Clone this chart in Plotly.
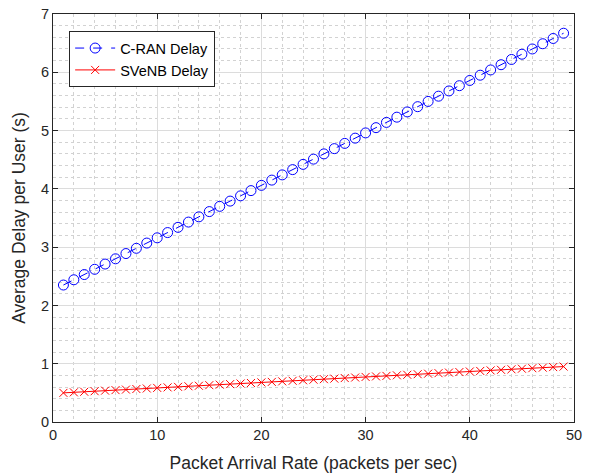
import plotly.graph_objects as go

arrival_rate = list(range(1, 50))

cran_delay = [2.35, 2.44, 2.53, 2.62, 2.71, 2.80, 2.89, 2.98, 3.07, 3.16,
              3.25, 3.34, 3.43, 3.52, 3.61, 3.70, 3.79, 3.88, 3.97, 4.06,
              4.15, 4.24, 4.33, 4.42, 4.51, 4.60, 4.69, 4.78, 4.87, 4.96,
              5.05, 5.14, 5.23, 5.32, 5.41, 5.50, 5.59, 5.68, 5.77, 5.86,
              5.95, 6.04, 6.13, 6.22, 6.31, 6.40, 6.49, 6.58, 6.67]

svenb_delay = [0.500, 0.509, 0.519, 0.528, 0.538, 0.547, 0.556, 0.566, 0.575, 0.585,
               0.594, 0.603, 0.613, 0.622, 0.632, 0.641, 0.650, 0.660, 0.669, 0.679,
               0.688, 0.697, 0.707, 0.716, 0.726, 0.735, 0.744, 0.754, 0.763, 0.773,
               0.782, 0.791, 0.801, 0.810, 0.820, 0.829, 0.838, 0.848, 0.857, 0.867,
               0.876, 0.885, 0.895, 0.904, 0.914, 0.923, 0.932, 0.942, 0.951]

x_ticks = [0, 10, 20, 30, 40, 50]
y_ticks = [0, 1, 2, 3, 4, 5, 6, 7]

FONT = "Liberation Sans, Arial, sans-serif"

fig = go.Figure()
fig.add_trace(go.Scatter(
    x=arrival_rate, y=cran_delay, name="C-RAN Delay", mode="lines+markers",
    line=dict(color="#0000ff", width=1, dash="dash"),
    marker=dict(symbol="circle-open", size=10, color="#0000ff",
                line=dict(width=1, color="#0000ff")),
))
fig.add_trace(go.Scatter(
    x=arrival_rate, y=svenb_delay, name="SVeNB Delay", mode="lines+markers",
    line=dict(color="#ff0000", width=1),
    marker=dict(symbol="x-thin", size=8, color="#ff0000",
                line=dict(width=1, color="#ff0000")),
))

axis_common = dict(
    showline=True, linecolor="#262626", linewidth=1, mirror="ticks",
    ticks="inside", ticklen=5, tickcolor="#262626",
    showgrid=True, gridcolor="#dcdcdc", gridwidth=1,
    zeroline=False, automargin=False,
    tickfont=dict(family=FONT, size=14.5, color="#262626"),
)

fig.update_xaxes(
    range=[0, 50], tickvals=x_ticks,
    title=dict(text="Packet Arrival Rate (packets per sec)", standoff=14,
               font=dict(family=FONT, size=17.5, color="#262626")),
    minor=dict(dtick=2, showgrid=True, gridcolor="#d2d2d2", griddash="dot", gridwidth=1, ticks=""),
    **axis_common,
)
fig.update_yaxes(
    range=[0, 7], tickvals=y_ticks,
    title=dict(text="Average Delay per User (s)", standoff=10,
               font=dict(family=FONT, size=17.5, color="#262626")),
    minor=dict(dtick=0.2, showgrid=True, gridcolor="#d2d2d2", griddash="dot", gridwidth=1, ticks=""),
    **axis_common,
)

fig.update_layout(
    width=592, height=475,
    margin=dict(l=53, r=18, t=14, b=53),
    paper_bgcolor="white", plot_bgcolor="white",
    font=dict(family=FONT, size=14.5, color="#000000"),
    legend=dict(
        x=0.031, y=0.958, xanchor="left", yanchor="top",
        bgcolor="white", bordercolor="#262626", borderwidth=1,
        font=dict(family=FONT, size=14.5, color="#000000"),
        tracegroupgap=0, itemwidth=40,
    ),
    showlegend=True,
)

fig.write_html("out.html", config={"displayModeBar": False},
               post_script="document.body.style.margin='0';")
